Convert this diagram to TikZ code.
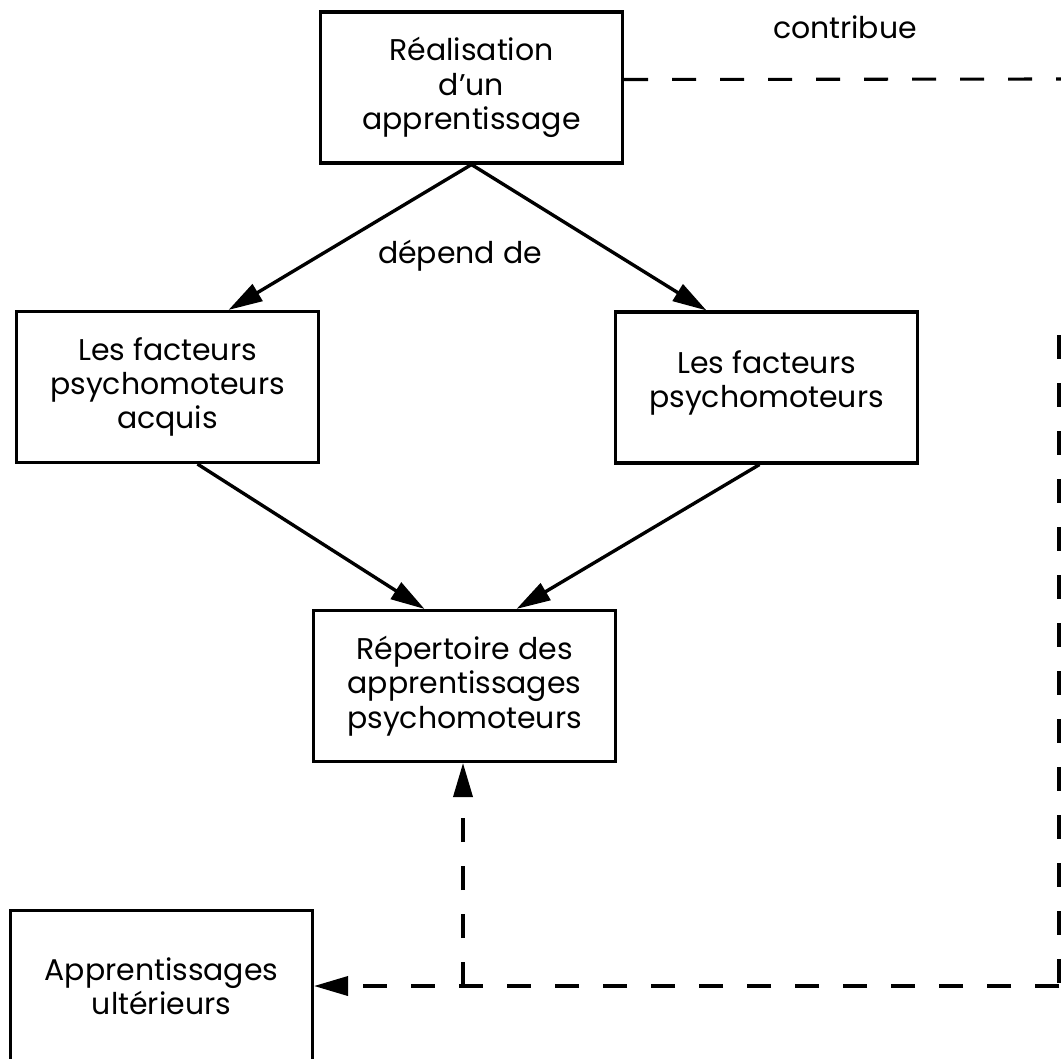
\documentclass[tikz,border=0pt]{standalone}
\usepackage{fontspec}
\setmainfont{Poppins}
\usetikzlibrary{arrows.meta,calc}

\begin{document}
\begin{tikzpicture}[
  x=0.25mm, y=-0.25mm,
  every node/.style={font=\fontsize{21.3}{24.4}\selectfont},
  box/.style={draw, line width=2.2pt, minimum width=75.5mm, minimum height=37.75mm,
              inner sep=0pt, align=center},
  arr/.style={line width=2.4pt, -{Triangle[length=8.5mm, width=4.8mm]}},
  dsh/.style={line width=2.2pt, dash pattern=on 6mm off 6mm},
  darr/.style={dsh, -{Triangle[length=8.5mm, width=4.8mm]}},
]
\useasboundingbox (0,0) rectangle (1061,1058);
\clip (0,0) rectangle (1061,1058);

% boxes
\node[box] (real) at (471.5,87.5)  {Réalisation\\d'un\\apprentissage};
\node[box] (lfac) at (167.5,387)   {Les facteurs\\psychomoteurs\\acquis};
\node[box] (rfac) at (766.5,387.5) {Les facteurs\\psychomoteurs\\[-12pt]\mbox{}};
\node[box] (rep)  at (464.5,686)   {Répertoire des\\apprentissages\\psychomoteurs};
\node[box] (ult)  at (161.5,986)   {Apprentissages\\ultérieurs};

% labels
\node (dep) at (460,256) {dépend de};
\node (con) at (845,27)  {contribue};

% solid arrows
\draw[arr] (real.south) -- ($(lfac.north)+(61,0)$);
\draw[arr] (real.south) -- ($(rfac.north)+(-60,0)$);
\draw[arr] ($(lfac.south)+(30,0)$) -- ($(rep.north)+(-40,0)$);
\draw[arr] ($(rfac.south)+(-7,0)$) -- ($(rep.north)+(52,0)$);

% dashed feedback route
\coordinate (tr) at (1061,79);
\coordinate (rt) at (1059,335);
\coordinate (rb) at (1059,986);
\coordinate (jn) at (463,986);
\draw[dsh] ($(real.east)+(0,-8)$) -- (tr);
\draw[dsh] (rt) -- (rb);
\draw[darr] (rb) -- (ult.east);
\draw[darr] (jn) -- (jn |- rep.south);
\end{tikzpicture}
\end{document}
